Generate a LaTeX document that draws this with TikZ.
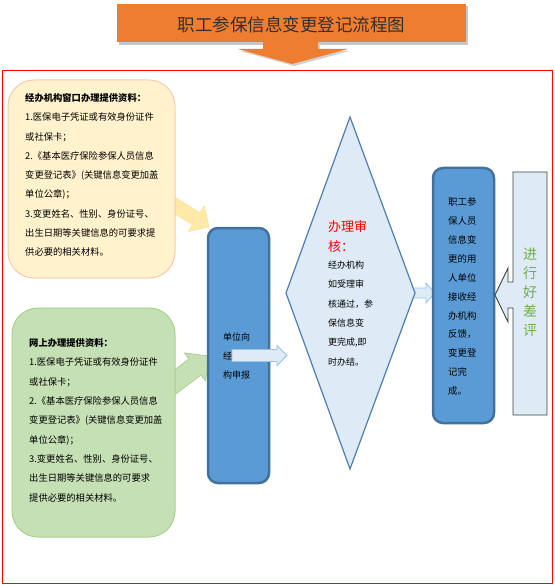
\documentclass[tikz,border=0pt]{standalone}
\usepackage{fontspec}
\newfontfamily\cjk{Noto Sans CJK SC}
\definecolor{ttlorange}{HTML}{ED7D31}
\definecolor{ttltext}{HTML}{3A2E28}
\definecolor{yfill}{HTML}{FFF2CC}
\definecolor{yedge}{HTML}{F8CBAD}
\definecolor{yarrow}{HTML}{FFE9A8}
\definecolor{yarrowedge}{HTML}{FFE699}
\definecolor{gfill}{HTML}{C5E0B4}
\definecolor{gedge}{HTML}{A9D18E}
\definecolor{boxblue}{HTML}{5B9BD5}
\definecolor{boxedge}{HTML}{41719C}
\definecolor{lightblue}{HTML}{DEEBF7}
\definecolor{lightedge}{HTML}{9DC3E6}
\definecolor{diaedge}{HTML}{4F7DB0}
\definecolor{calloutedge}{HTML}{404040}
\definecolor{evalgreen}{HTML}{70AD47}
\begin{document}
\begin{tikzpicture}[x=1pt,y=-1pt,
  bluebox/.style={draw=boxedge, line width=2.5pt, fill=boxblue, rounded corners=10pt},
  softbox/.style={rounded corners=26pt, line width=1pt},
  smallarrow/.style={fill=lightblue, draw=lightedge, line width=0.8pt},
  txt/.style={anchor=north west, align=left, inner sep=0pt},
]
\useasboundingbox (0,0) rectangle (554,585);
\fill[white] (0,0) rectangle (554,585);

% ---- title callout ----
\fill[black!22] (119,6) rectangle (468,45);
\fill[black!18] (265,44) -- (320,44) -- (320,51) -- (350,51) -- (294,66) -- (240,51) -- (265,51) -- cycle;
\fill[ttlorange] (117,4) rectangle (466,42);
\fill[ttlorange] (263,41) -- (318,41) -- (318,49) -- (348,49) -- (292,64) -- (238,49) -- (263,49) -- cycle;
\node[font=\cjk\fontsize{17.5}{20}\selectfont, text=ttltext] (title) at (291.5,25) {职工参保信息变更登记流程图};

% ---- red frame ----
\draw[red, line width=1pt] (2,71) rectangle (552,583);

% ---- block arrows from the material boxes ----
\begin{scope}[shift={(175,205.5)}, rotate=-32]
  \draw[fill=yarrow, draw=yarrowedge, line width=0.8pt, line join=round]
    (-8,-7) -- (25,-7) -- (25,-15) -- (40,0) -- (25,15) -- (25,7) -- (-8,7) -- cycle;
\end{scope}
\begin{scope}[shift={(175,382)}, rotate=37]
  \draw[fill=gfill, draw=gedge, line width=0.8pt, line join=round]
    (-8,-10) -- (25,-10) -- (25,-17.5) -- (43,0) -- (25,17.5) -- (25,10) -- (-8,10) -- cycle;
\end{scope}

% ---- material boxes ----
\draw[softbox, fill=yfill, draw=yedge] (8,80) rectangle (175,278);
\node[txt, font=\cjk\fontsize{9.3}{19.25}\selectfont] (ytext) at (25,93.5) {%
\textbf{经办机构窗口办理提供资料：}\\
1.医保电子凭证或有效身份证件\\
或社保卡；\\
2.《基本医疗保险参保人员信息\\
变更登记表》(关键信息变更加盖\\
单位公章)；\\
3.变更姓名、性别、身份证号、\\
出生日期等关键信息的可要求提\\
供必要的相关材料。};

\draw[softbox, fill=gfill, draw=gedge] (12,308) rectangle (175,537);
\node[txt, font=\cjk\fontsize{9.3}{19.3}\selectfont] (gtext) at (29,338.5) {%
\textbf{网上办理提供资料：}\\
1.医保电子凭证或有效身份证件\\
或社保卡；\\
2.《基本医疗保险参保人员信息\\
变更登记表》(关键信息变更加盖\\
单位公章)；\\
3.变更姓名、性别、身份证号、\\
出生日期等关键信息的可要求\\
提供必要的相关材料。};

% ---- unit declaration box ----
\draw[bluebox] (208,228) rectangle (269,483);
\node[txt, font=\cjk\fontsize{9}{19}\selectfont] (unit) at (223,332.5) {单位向\\经\\构申报};
\draw[smallarrow] (232,349.5) -- (277,349.5) -- (277,345.5) -- (287,355.5) -- (277,365.5) -- (277,361.5) -- (232,361.5) -- cycle;

% ---- review diamond ----
\draw[smallarrow] (412,288) -- (426,288) -- (426,283) -- (435,293) -- (426,303) -- (426,298) -- (412,298) -- cycle;
\draw[fill=lightblue, draw=diaedge, line width=1.2pt, line join=miter] (350,117) -- (415,293) -- (350,469) -- (286,293) -- cycle;
\node[txt, font=\cjk\fontsize{13}{20}\selectfont, text=red] (revtitle) at (328,220.5) {办理审\\核：};
\node[txt, font=\cjk\fontsize{9}{19.4}\selectfont] (revtext) at (328,260.5) {经办机构\\如受理审\\核通过，参\\保信息变\\更完成,即\\时办结。};

% ---- feedback box ----
\draw[bluebox] (433,168) rectangle (494,423);
\node[txt, font=\cjk\fontsize{9.4}{18.9}\selectfont] (feedback) at (448,197.5) {职工参\\保人员\\信息变\\更的用\\人单位\\接收经\\办机构\\反馈，\\变更登\\记完\\成。};

% ---- evaluation callout ----
\draw[fill=lightblue, draw=calloutedge, line width=0.9pt, line join=miter]
  (513,172) -- (547,172) -- (547,415) -- (513,415) -- (513,308) -- (508,308) -- (508,322)
  -- (495,295) -- (508,268) -- (508,282) -- (513,282) -- cycle;
\node[align=center, inner sep=0pt, font=\cjk\fontsize{14}{19}\selectfont, text=evalgreen] (eval) at (530,292) {进\\行\\好\\差\\评};
\end{tikzpicture}
\end{document}
